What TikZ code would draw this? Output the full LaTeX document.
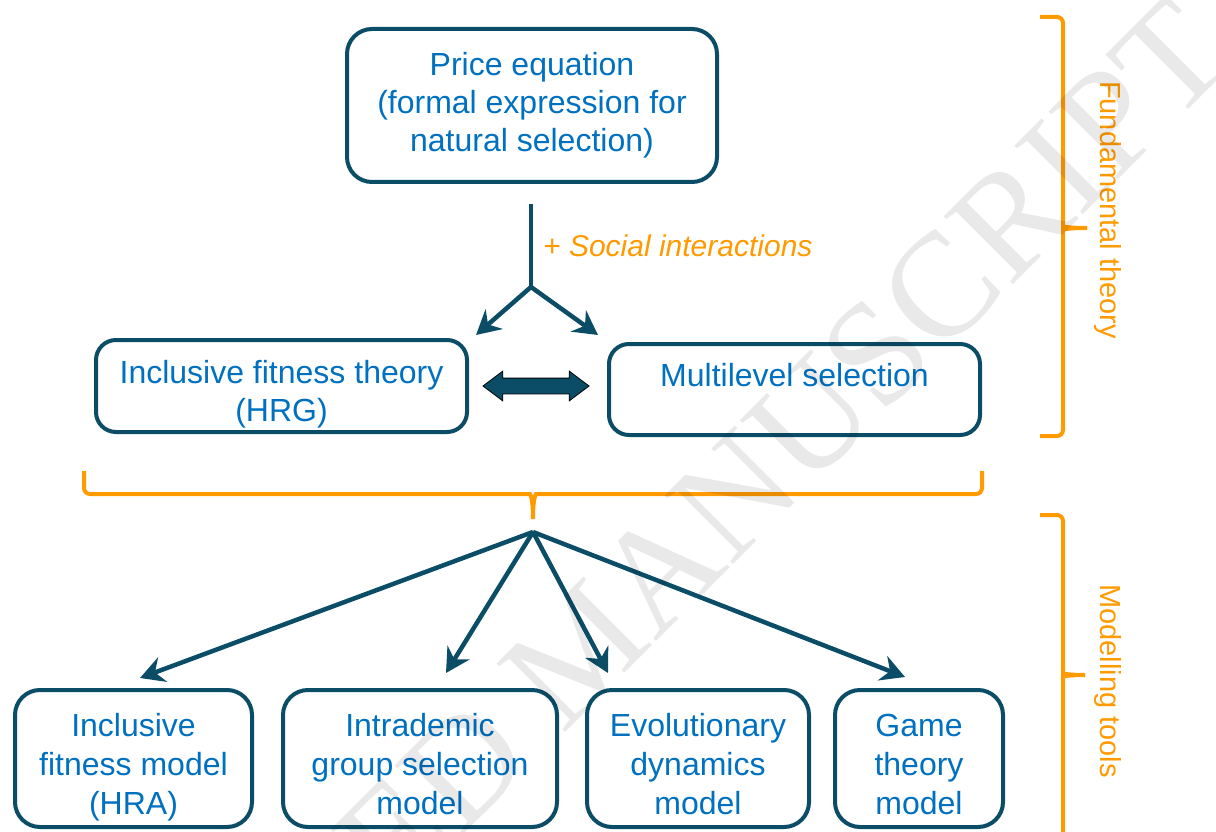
\documentclass[tikz,border=0pt]{standalone}
\usepackage{fontspec}
\setmainfont{Liberation Sans}
\newfontfamily\wmfont{Liberation Serif}
\usetikzlibrary{arrows.meta,shapes.arrows}
\definecolor{dteal}{HTML}{0B4D66}
\definecolor{tblue}{HTML}{0070C0}
\definecolor{orng}{HTML}{FF9A00}
\newcommand{\toprl}{\rule{0pt}{40pt}}
\newcommand{\botrl}{\rule[-7pt]{0pt}{7pt}}
\begin{document}
\begin{tikzpicture}[x=1pt,y=-1pt,
  box/.style={draw=dteal, line width=4pt, text=tblue, align=center, inner sep=0pt,
    font=\fontsize{32}{38}\selectfont},
  bigbox/.style={box, rounded corners=25pt},
  midbox/.style={box, rounded corners=20pt},
  lowbox/.style={box, rounded corners=25pt, minimum height=137pt, font=\fontsize{32}{39}\selectfont},
  arr/.style={draw=dteal, line width=4.5pt, -{Stealth[length=24pt,width=26pt,inset=8pt]}},
  stem/.style={draw=dteal, line width=4.5pt},
  brc/.style={draw=orng, line width=4pt, rounded corners=6pt},
  sidelab/.style={rotate=-90, text=orng, inner sep=0pt, font=\fontsize{29}{34}\selectfont}]
\useasboundingbox (0,0) rectangle (1216,832);

% boxes
\node[bigbox, minimum width=370pt, minimum height=153pt] (price) at (532,105.5)
  {Price equation\\(formal expression for\\natural selection)};
\node[midbox, minimum width=371pt, minimum height=92pt] (ift) at (281.5,386)
  {\toprl Inclusive fitness theory\\(HRG)\botrl};
\node[midbox, minimum width=371pt, minimum height=91pt] (mls) at (794.5,389.5)
  {Multilevel selection\rule[-29pt]{0pt}{29pt}};
\node[lowbox, minimum width=237pt] (b1) at (133.5,758.5)
  {\toprl Inclusive\\fitness model\\(HRA)\botrl};
\node[lowbox, minimum width=274pt] (b2) at (420,758.5)
  {\toprl Intrademic\\group selection\\model\botrl};
\node[lowbox, minimum width=222pt] (b3) at (698,758.5)
  {\toprl Evolutionary\\dynamics\\model\botrl};
\node[lowbox, minimum width=168pt] (b4) at (919,758.5)
  {\toprl Game\\theory\\model\botrl};

% top split
\coordinate (top) at (531,204);
\coordinate (split) at (531,287);
\coordinate (tl) at (476,335);
\coordinate (tr) at (598,335);
\draw[stem] (top) -- (split);
\draw[arr] (split) -- (tl);
\draw[arr] (split) -- (tr);
\node[anchor=west, text=orng, inner sep=0pt, font=\fontsize{30}{36}\selectfont\itshape] (soc) at (543,246) {+ Social interactions};

% double arrow
\node[double arrow, draw=black, line width=0.8pt, fill=dteal, minimum height=106pt,
  double arrow head extend=7pt, double arrow tip angle=74, inner xsep=0pt, inner ysep=7.5pt] (dbl) at (536,386) {};

% bottom brace
\draw[brc] (84,471) -- (84,494) -- (524,494) .. controls (530,494) and (533,497) .. (533,519);
\draw[brc] (982,471) -- (982,494) -- (542,494) .. controls (536,494) and (533,497) .. (533,519);

% fan
\coordinate (hub) at (533,532);
\coordinate (h1) at (140,678);
\coordinate (h2) at (446,673);
\coordinate (h3) at (608,673);
\coordinate (h4) at (905,677);
\draw[arr] (hub) -- (h1);
\draw[arr] (hub) -- (h2);
\draw[arr] (hub) -- (h3);
\draw[arr] (hub) -- (h4);

% right braces
\draw[brc] (1040,17) -- (1063,17) -- (1063,221) .. controls (1063,226) and (1066,228) .. (1087,228);
\draw[brc] (1040,436) -- (1063,436) -- (1063,235) .. controls (1063,230) and (1066,228) .. (1087,228);
\draw[brc] (1040,515) -- (1063,515) -- (1063,668) .. controls (1063,673) and (1066,675) .. (1085,675);
\draw[brc] (1063,840) -- (1063,682) .. controls (1063,677) and (1066,675) .. (1085,675);
\node[sidelab] (fund) at (1108,210) {Fundamental theory};
\node[sidelab] (modl) at (1108,681) {Modelling tools};

% watermark
\begin{scope}
\clip (0,0) rectangle (1216,832);
\node[rotate=45, anchor=base west, inner sep=0pt, text=black, text opacity=0.085,
  font=\wmfont\fontsize{148}{148}\selectfont] (wm) at (-5,1303) {ACCEPTED MANUSCRIPT};
\end{scope}
\end{tikzpicture}
\end{document}
